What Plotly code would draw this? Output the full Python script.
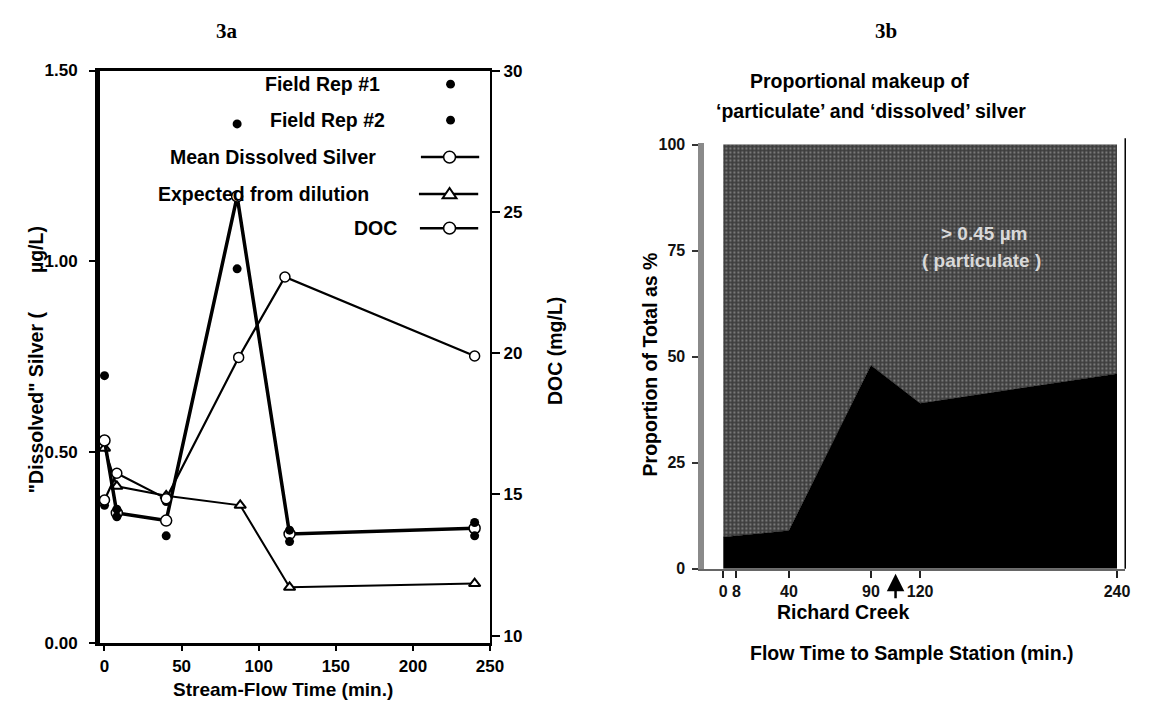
import plotly.graph_objects as go

W, H = 1150, 704


def px(x):
    return x / W


def py(y):
    return 1 - y / H


# ---------------- Data: panel 3a ----------------
silver_time = [0, 8, 40, 86, 120, 240]
field_rep1 = [0.70, 0.35, 0.37, 1.36, 0.295, 0.315]
field_rep2 = [0.36, 0.33, 0.28, 0.98, 0.265, 0.28]
mean_dissolved = [0.53, 0.34, 0.32, 1.17, 0.285, 0.30]
expected_time = [0, 8, 40, 88, 120, 240]
expected_dilution = [0.51, 0.41, 0.385, 0.36, 0.145, 0.155]
doc_time = [0, 8, 40, 87, 117, 240]
doc_mgL = [14.8, 15.75, 14.85, 19.85, 22.7, 19.9]

silver_ticks = [0, 0.5, 1.0, 1.5]
silver_ticktext = ["0.00", "0.50", "1.00", "1.50"]
doc_ticks = [10, 15, 20, 25, 30]
time_ticks = [0, 50, 100, 150, 200, 250]

# ---------------- Data: panel 3b ----------------
flow_time = [0, 8, 40, 90, 120, 240]
dissolved_pct = [7.5, 7.8, 9.0, 48.0, 39.0, 46.0]
particulate_pct = [92.5, 92.2, 91.0, 52.0, 61.0, 54.0]
flow_ticks = [0, 8, 40, 90, 120, 240]
flow_ticktext = ["0", "8", "40", "90", "120", "240"]
pct_ticks = [0, 25, 50, 75, 100]
richard_creek_time = 105

SANS = "Liberation Sans, Arial, sans-serif"
NARROW = "Liberation Sans Narrow, Arial Narrow, Liberation Sans, sans-serif"
SERIF = "Liberation Serif, Times New Roman, serif"

fig = go.Figure()

# ---- 3a traces ----
fig.add_trace(go.Scatter(
    x=expected_time, y=expected_dilution, mode="lines+markers",
    line=dict(color="black", width=2),
    marker=dict(symbol="triangle-up", size=10, color="white",
                line=dict(color="black", width=2)),
    xaxis="x", yaxis="y", showlegend=False))
fig.add_trace(go.Scatter(
    x=doc_time, y=doc_mgL, mode="lines+markers",
    line=dict(color="black", width=2.2),
    marker=dict(symbol="circle", size=10, color="white",
                line=dict(color="black", width=1.5)),
    xaxis="x", yaxis="y2", showlegend=False))
fig.add_trace(go.Scatter(
    x=silver_time, y=mean_dissolved, mode="lines+markers",
    line=dict(color="black", width=3.5),
    marker=dict(symbol="circle", size=11, color="white",
                line=dict(color="black", width=1.5)),
    xaxis="x", yaxis="y", showlegend=False))
fig.add_trace(go.Scatter(
    x=silver_time, y=field_rep1, mode="markers",
    marker=dict(symbol="circle", size=9, color="black"),
    xaxis="x", yaxis="y", showlegend=False))
fig.add_trace(go.Scatter(
    x=silver_time, y=field_rep2, mode="markers",
    marker=dict(symbol="circle", size=9, color="black"),
    xaxis="x", yaxis="y", showlegend=False))

# ---- 3b traces ----
fig.add_trace(go.Scatter(
    x=flow_time, y=dissolved_pct, mode="lines", stackgroup="one",
    line=dict(color="black", width=0.5), fillcolor="black",
    xaxis="x2", yaxis="y3", showlegend=False))
fig.add_trace(go.Scatter(
    x=flow_time, y=particulate_pct, mode="lines", stackgroup="one",
    line=dict(color="#5a5a5a", width=0.5), fillcolor="#4a4a4a",
    fillpattern=dict(shape=".", bgcolor="#3e3e3e", fgcolor="#b4b4b4",
                     size=4, solidity=0.28),
    xaxis="x2", yaxis="y3", showlegend=False))

tickfont_a = dict(family=SANS, size=17, color="black", weight="bold")
tickfont_b = dict(family=NARROW, size=16, color="#111111", weight="bold")

# panel geometry (pixels)
a_left, a_right, a_top, a_bottom = 93, 488, 55, 643
b_left, b_right, b_top, b_bottom = 705, 1131, 129, 567

fig.update_layout(
    width=W, height=H,
    margin=dict(l=0, r=0, t=0, b=0),
    paper_bgcolor="white", plot_bgcolor="white",
    xaxis=dict(domain=[px(a_left), px(a_right)], range=[-3, 250],
               tickvals=time_ticks, ticks="outside", ticklen=6, tickwidth=1.5,
               tickcolor="black", showline=True, linecolor="black", linewidth=2.5,
               mirror=True, showgrid=False, zeroline=False, tickfont=tickfont_a,
               ticklabelstandoff=0, anchor="y"),
    yaxis=dict(domain=[py(a_bottom), py(a_top)], range=[0, 1.5],
               tickvals=silver_ticks, ticktext=silver_ticktext,
               ticks="outside", ticklen=6, tickwidth=1.5, tickcolor="black",
               showline=True, linecolor="black", linewidth=4.5,
               showgrid=False, zeroline=False, tickfont=tickfont_a,
               ticklabelstandoff=8, anchor="x"),
    yaxis2=dict(overlaying="y", side="right", range=[9.75, 30.01],
                tickvals=doc_ticks, ticks="outside", ticklen=8, tickwidth=1.5,
                tickcolor="black", showline=True, linecolor="black", linewidth=2,
                showgrid=False, zeroline=False, tickfont=tickfont_a, anchor="x"),
    xaxis2=dict(domain=[px(b_left), px(b_right)], range=[-11.5, 245],
                tickvals=flow_ticks, ticktext=flow_ticktext,
                ticks="outside", ticklen=7, tickwidth=1.5, tickcolor="#222222",
                showline=True, linecolor="#666666", linewidth=2,
                showgrid=False, zeroline=False, tickfont=tickfont_b,
                anchor="y3"),
    yaxis3=dict(domain=[py(b_bottom), py(b_top)], range=[0, 100.5],
                tickvals=pct_ticks, ticks="outside", ticklen=6, tickwidth=1.5,
                tickcolor="#333333", showline=True, linecolor="#8a8a8a",
                linewidth=6, showgrid=False, zeroline=False,
                tickfont=tickfont_b, ticklabelstandoff=4, anchor="x2"),
)

annotations = []
FS = 19.5


def txt(text, x, y, size=FS, family=SANS, anchor="center", angle=0,
        color="black"):
    annotations.append(dict(
        text=text, x=px(x), y=py(y), xref="paper", yref="paper",
        xanchor=anchor, yanchor="middle", showarrow=False, textangle=angle,
        borderpad=0, font=dict(family=family, size=size, color=color)))


# titles
txt("<b>3a</b>", 222, 14, size=21, family=SERIF)
txt("<b>3b</b>", 889, 14, size=21, family=SERIF)

# legend (3a) text
legend_rows = [
    ("<b>Field Rep #1</b>", 378, 69),
    ("<b>Field Rep #2</b>", 383, 106),
    ("<b>Mean Dissolved Silver</b>", 374, 144),
    ("<b>Expected from dilution</b>", 366, 182),
    ("<b>DOC</b>", 395, 217),
]
for t, xr, yc in legend_rows:
    txt(t, xr, yc, anchor="right")

# axis titles 3a
txt("<b>Stream-Flow Time (min.)</b>", 278, 691, size=19)
txt("<b>\"Dissolved\" Silver (\u2003\u2003µg/L)</b>", 28, 352, angle=-90)
txt("<b>DOC (mg/L)</b>", 553, 343, angle=-90)

# 3b texts
txt("<b>Proportional makeup of</b>", 862, 66)
txt("<b>‘particulate’ and ‘dissolved’ silver</b>", 874, 97)
txt("<b>Proportion of Total as %</b>", 650, 357, angle=-90)
txt("<b>Richard Creek</b>", 845, 612)
txt("<b>Flow Time to Sample Station (min.)</b>", 915, 654)
txt("<b>&gt; 0.45 µm</b>", 988, 222, size=19, family=NARROW, color="#d9d9d9")
txt("<b>( particulate )</b>", 986, 250, size=19, family=NARROW, color="#d9d9d9")

# Richard Creek arrow
annotations.append(dict(
    x=richard_creek_time, y=-0.012, xref="x2", yref="y3 domain",
    showarrow=True, ax=0, ay=26, arrowhead=2, arrowsize=1.4, arrowwidth=2.5,
    arrowcolor="black", text=""))

fig.update_layout(annotations=annotations)

# legend symbols (paper coordinates)
shapes = []


def dot(xc, yc, r, fill, lw=1.5):
    shapes.append(dict(type="circle", xref="paper", yref="paper",
                       x0=px(xc - r), x1=px(xc + r), y0=py(yc + r), y1=py(yc - r),
                       fillcolor=fill, line=dict(color="black", width=lw),
                       layer="above"))


def seg(x0, x1, yc, lw):
    shapes.append(dict(type="line", xref="paper", yref="paper",
                       x0=px(x0), x1=px(x1), y0=py(yc), y1=py(yc),
                       line=dict(color="black", width=lw), layer="above"))


dot(448, 69, 4.5, "black", 0)
dot(448, 106, 4.5, "black", 0)
seg(418, 477, 144, 2.5)
dot(447, 144, 6, "white")
seg(416, 476, 182, 2.5)
tx, ty, s = 447, 182, 7
shapes.append(dict(type="path", xref="paper", yref="paper",
                   path=f"M {px(tx - s)},{py(ty + s * 0.6)} L {px(tx + s)},{py(ty + s * 0.6)} "
                        f"L {px(tx)},{py(ty - s * 0.9)} Z",
                   fillcolor="white", line=dict(color="black", width=2),
                   layer="above"))
seg(417, 476, 217, 2.5)
dot(447, 217, 6, "white")

# 3b right frame line
shapes.append(dict(type="line", xref="x2 domain", yref="y3 domain",
                   x0=1, x1=1, y0=0, y1=1.01,
                   line=dict(color="black", width=1.5)))
fig.update_layout(shapes=shapes)

fig.write_html("out.html")
